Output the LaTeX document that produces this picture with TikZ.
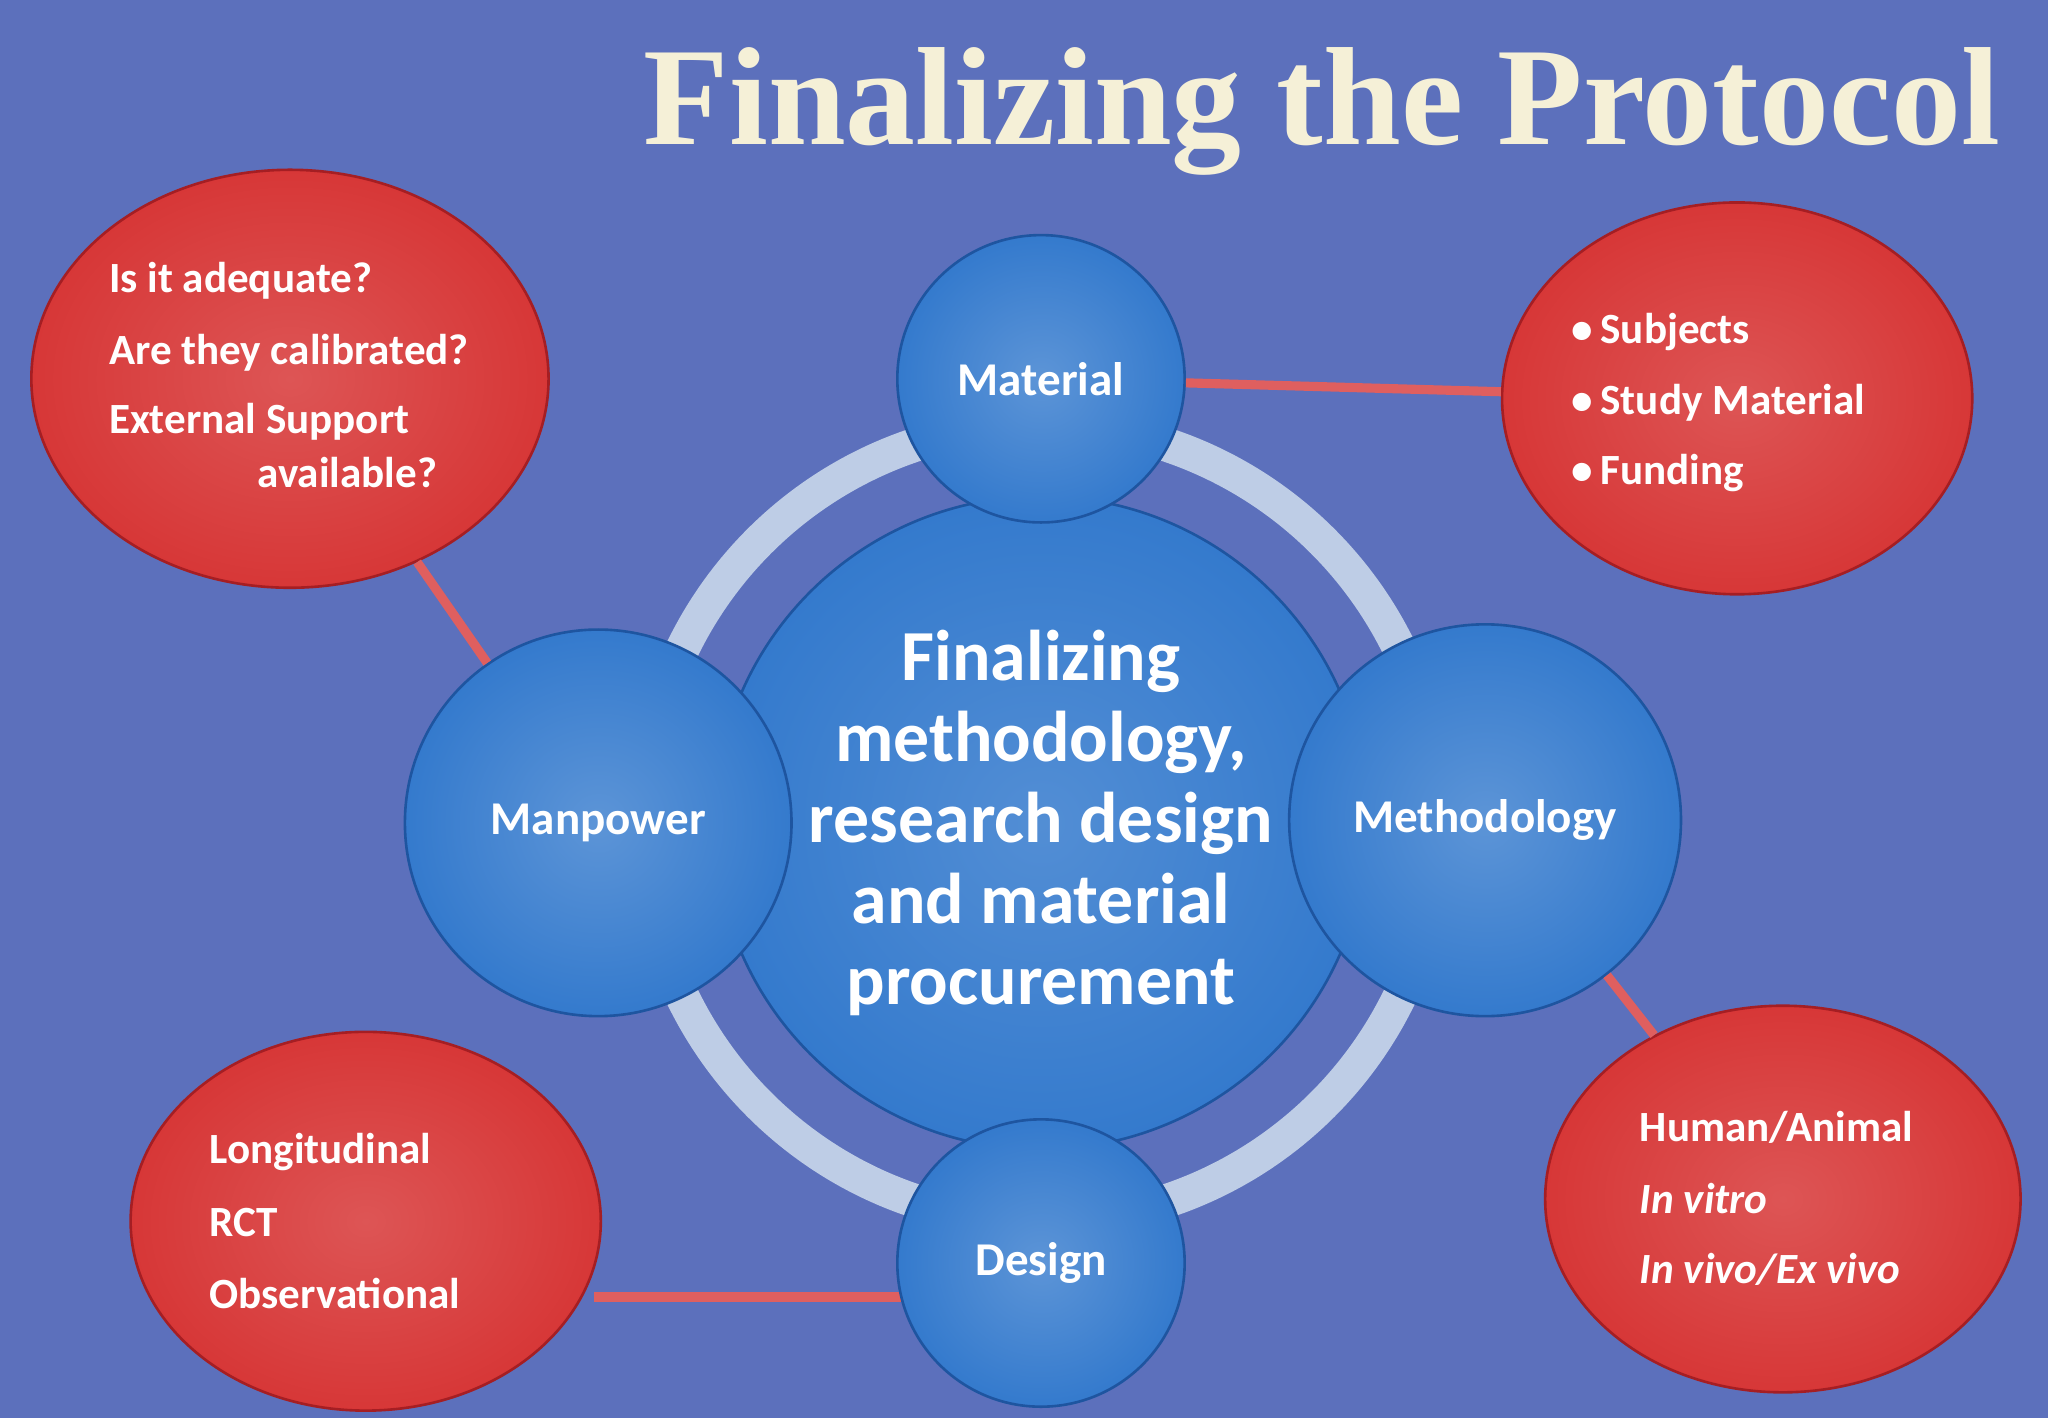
\documentclass[tikz,border=0pt]{standalone}
\usepackage{fontspec}
\setmainfont{Carlito}
\newfontfamily\titlefont{Liberation Serif}
\usetikzlibrary{shapes.geometric}
\definecolor{bg}{RGB}{92,112,188}
\definecolor{cblue}{RGB}{52,122,205}
\definecolor{cblued}{RGB}{30,85,160}
\definecolor{ring}{RGB}{190,205,230}
\definecolor{rblob}{RGB}{215,55,55}
\definecolor{rblobd}{RGB}{165,30,35}
\definecolor{cream}{RGB}{245,240,215}
\tikzset{
  sat/.style={circle,draw=cblued,line width=2pt,inner color=cblue!80!white,outer color=cblue,text=white,font=\bfseries\fontsize{36}{38}\selectfont},
  blob/.style={ellipse,draw=rblobd,line width=2pt,inner color=rblob!85!white,outer color=rblob},
  btxt/.style={text=white,font=\bfseries\fontsize{33}{36}\selectfont,anchor=west},
  link/.style={draw=rblob!80!white,line width=7pt},
}
\begin{document}
\begin{tikzpicture}[x=1pt,y=-1pt]
\fill[bg] (0,0) rectangle (1568,1086);
\useasboundingbox (0,0) rectangle (1568,1086);
\node[text=cream,font=\titlefont\bfseries\fontsize{107}{107}\selectfont] (title) at (1012,85) {Finalizing the Protocol};
\draw[ring,line width=26pt] (797,630) circle[radius=305];
\node[circle,minimum size=500pt,draw=cblued,line width=2pt,inner color=cblue!85!white,outer color=cblue,text=white,align=center,font=\bfseries\fontsize{55}{62}\selectfont] (c) at (797,630) {Finalizing\\methodology,\\research design\\and material\\procurement};
\node[blob,minimum width=396pt,minimum height=320pt] (tl) at (222,290) {};
\node[blob,minimum width=360pt,minimum height=300pt] (tr) at (1330,305) {};
\node[blob,minimum width=360pt,minimum height=290pt] (bl) at (280,935) {};
\node[blob,minimum width=364pt,minimum height=296pt] (br) at (1365,918) {};
\coordinate (dl) at (700,993);
\coordinate (bll) at (455,993);
\draw[link] (dl) -- (bll);
\node[sat,minimum size=220pt] (mat) at (797,290) {Material};
\node[sat,minimum size=296pt] (man) at (458,630) {Manpower};
\node[sat,minimum size=300pt] (meth) at (1137,628) {Methodology};
\node[sat,minimum size=220pt] (des) at (797,967) {Design};
\draw[link] (tl) -- (man);
\draw[link] (mat) -- (tr);
\draw[link] (meth) -- (br);
\node[btxt] (a1) at (80,215) {Is it adequate?};
\node[btxt] (a2) at (80,270) {Are they calibrated?};
\node[btxt] (a3) at (80,323) {External Support};
\node[btxt,anchor=east] (a4) at (338,362) {available?};
\node[btxt] (b1) at (1200,254) {\textbullet\,Subjects};
\node[btxt] (b2) at (1200,308) {\textbullet\,Study Material};
\node[btxt] (b3) at (1200,362) {\textbullet\,Funding};
\node[btxt] (c1) at (157,882) {Longitudinal};
\node[btxt] (c2) at (157,936) {RCT};
\node[btxt] (c3) at (157,990) {Observational};
\node[btxt] (d1) at (1252,863) {Human/Animal};
\node[btxt] (d2) at (1252,918) {\itshape In vitro};
\node[btxt] (d3) at (1252,972) {\itshape In vivo/Ex vivo};
\end{tikzpicture}
\end{document}
